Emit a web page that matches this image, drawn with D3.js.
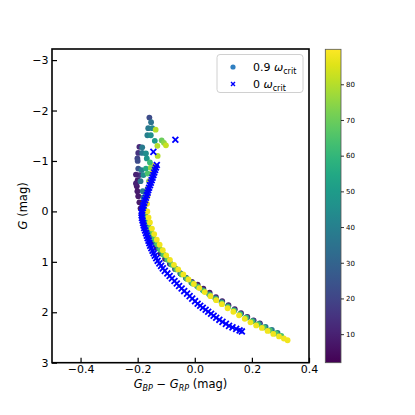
<!DOCTYPE html>
<html lang="en">
<head>
  <meta charset="UTF-8" />
  <title>Colour-magnitude diagram</title>
  <script src="https://d3js.org/d3.v7.min.js"></script>
  <style>
    body {
      margin: 0;
      background: #fff;
      font-family: "DejaVu Sans", sans-serif;
    }
    svg { display: block; }
    .tick text { font-family: "DejaVu Sans", sans-serif; }
  </style>
</head>
<body>
<svg id="chart" width="415" height="415"></svg>

<script>
  // ---- data: [G_BP - G_RP, G] ----
  const xTicks = [-0.4, -0.2, 0.0, 0.2, 0.4];
  const yTicks = [-3, -2, -1, 0, 1, 2, 3];
  const cbarTicks = [10, 20, 30, 40, 50, 60, 70, 80];

  // 0 omega_crit (non-rotating) track
  const nonRot = [
    [-0.068, -1.42], [-0.145, -1.18],
    [-0.133, -0.92], [-0.136, -0.87], [-0.139, -0.82], [-0.142, -0.77], [-0.145, -0.72],
    [-0.148, -0.67], [-0.151, -0.62], [-0.154, -0.57], [-0.157, -0.52], [-0.160, -0.47],
    [-0.163, -0.42], [-0.165, -0.37], [-0.168, -0.32], [-0.171, -0.27], [-0.174, -0.22],
    [-0.177, -0.17], [-0.180, -0.12], [-0.182, -0.07], [-0.184, -0.02], [-0.186, 0.03],
    [-0.186, 0.08], [-0.185, 0.13], [-0.183, 0.18], [-0.181, 0.23], [-0.179, 0.28],
    [-0.177, 0.33], [-0.174, 0.38], [-0.171, 0.43], [-0.168, 0.48], [-0.165, 0.53],
    [-0.162, 0.58], [-0.159, 0.63], [-0.156, 0.68], [-0.152, 0.73], [-0.148, 0.78],
    [-0.144, 0.83], [-0.140, 0.88], [-0.135, 0.93], [-0.130, 0.98], [-0.124, 1.03],
    [-0.118, 1.08], [-0.112, 1.13], [-0.105, 1.18], [-0.096, 1.23], [-0.088, 1.28],
    [-0.080, 1.33], [-0.071, 1.38], [-0.063, 1.43], [-0.055, 1.48], [-0.046, 1.53],
    [-0.037, 1.58], [-0.027, 1.63], [-0.018, 1.68], [-0.009, 1.73], [0.001, 1.78],
    [0.010, 1.83], [0.019, 1.87], [0.028, 1.91], [0.038, 1.95], [0.047, 1.99],
    [0.057, 2.03], [0.066, 2.07], [0.075, 2.11], [0.086, 2.15], [0.097, 2.19],
    [0.109, 2.23], [0.120, 2.27], [0.132, 2.30], [0.145, 2.33], [0.157, 2.36], [0.165, 2.38]
  ];

  // 0.9 omega_crit tracks at a few inclinations (deg)
  const rotIncl = [8, 38, 65, 88];

  const rotI08 = [
    [-0.200, -0.62], [-0.203, -0.50], [-0.201, -0.40], [-0.198, -0.30], [-0.194, -0.18],
    [-0.190, -0.06], [-0.186, 0.06], [-0.182, 0.16], [-0.176, 0.26], [-0.168, 0.36],
    [-0.158, 0.48], [-0.147, 0.60], [-0.134, 0.72], [-0.120, 0.83], [-0.104, 0.94],
    [-0.087, 1.04], [-0.069, 1.14], [-0.050, 1.23], [-0.030, 1.32], [-0.010, 1.40],
    [0.010, 1.45], [0.030, 1.53], [0.052, 1.61], [0.074, 1.70], [0.096, 1.78],
    [0.118, 1.86], [0.140, 1.94], [0.162, 2.02], [0.184, 2.09], [0.206, 2.16], [0.228, 2.22]
  ];

  const rotI38 = [
    [-0.182, -0.40], [-0.180, -0.28], [-0.178, -0.16], [-0.176, -0.04], [-0.173, 0.08],
    [-0.169, 0.19], [-0.163, 0.30], [-0.156, 0.41], [-0.147, 0.52], [-0.137, 0.63],
    [-0.126, 0.73], [-0.113, 0.84], [-0.099, 0.94], [-0.084, 1.04], [-0.068, 1.13],
    [-0.050, 1.23], [-0.031, 1.32], [-0.012, 1.41], [0.008, 1.48], [0.028, 1.56],
    [0.050, 1.64], [0.072, 1.72], [0.094, 1.80], [0.116, 1.88], [0.138, 1.96],
    [0.160, 2.03], [0.182, 2.10], [0.204, 2.17], [0.226, 2.23], [0.248, 2.29],
    [0.270, 2.35], [0.290, 2.41]
  ];

  const rotI65 = [
    [-0.160, -0.60], [-0.165, -0.45], [-0.170, -0.30], [-0.172, -0.15], [-0.172, 0.00],
    [-0.169, 0.12], [-0.165, 0.22], [-0.159, 0.33], [-0.151, 0.44], [-0.142, 0.55],
    [-0.132, 0.65], [-0.121, 0.76], [-0.109, 0.86], [-0.095, 0.96], [-0.080, 1.06],
    [-0.064, 1.15], [-0.046, 1.25], [-0.027, 1.34], [-0.008, 1.43], [0.012, 1.50],
    [0.032, 1.58], [0.053, 1.66], [0.074, 1.74], [0.095, 1.82], [0.116, 1.90],
    [0.137, 1.97], [0.158, 2.04], [0.179, 2.11], [0.200, 2.18], [0.221, 2.24],
    [0.242, 2.30], [0.263, 2.36], [0.284, 2.42], [0.303, 2.47]
  ];

  const rotI88 = [
    [-0.145, -0.90], [-0.152, -0.75], [-0.158, -0.60], [-0.163, -0.45], [-0.166, -0.30],
    [-0.167, -0.15], [-0.166, 0.00], [-0.162, 0.12], [-0.157, 0.22], [-0.150, 0.34],
    [-0.142, 0.45], [-0.133, 0.56], [-0.123, 0.66], [-0.112, 0.77], [-0.100, 0.87],
    [-0.087, 0.96], [-0.073, 1.06], [-0.058, 1.15], [-0.040, 1.25], [-0.022, 1.35],
    [-0.003, 1.44], [0.016, 1.52], [0.035, 1.60], [0.055, 1.68], [0.075, 1.76],
    [0.095, 1.84], [0.115, 1.92], [0.135, 1.99], [0.155, 2.06], [0.175, 2.13],
    [0.195, 2.20], [0.215, 2.26], [0.235, 2.31], [0.255, 2.37], [0.275, 2.43],
    [0.295, 2.48], [0.312, 2.52], [0.325, 2.555]
  ];

  // scattered bright models near the turn-off: [G_BP - G_RP, G, inclination]
  const rotUpper = [
    [-0.159, -1.86, 22], [-0.153, -1.77, 35], [-0.163, -1.65, 38], [-0.149, -1.65, 42],
    [-0.137, -1.62, 80], [-0.166, -1.51, 40], [-0.154, -1.51, 45], [-0.140, -1.40, 50],
    [-0.116, -1.41, 70], [-0.108, -1.36, 75], [-0.101, -1.31, 82], [-0.131, -1.30, 80],
    [-0.194, -1.28, 12], [-0.184, -1.27, 38], [-0.198, -1.16, 15], [-0.184, -1.16, 38],
    [-0.171, -1.15, 45], [-0.168, -1.05, 48], [-0.201, -1.05, 20], [-0.130, -1.10, 80],
    [-0.200, -1.00, 22], [-0.157, -0.97, 62], [-0.198, -0.85, 25], [-0.186, -0.82, 40],
    [-0.171, -0.85, 55], [-0.154, -0.865, 75], [-0.194, -0.72, 15], [-0.206, -0.73, 10],
    [-0.180, -0.72, 45], [-0.165, -0.75, 65], [-0.206, -0.555, 10], [-0.190, -0.60, 35]
  ];

  const svg = d3.select("#chart");
  const plot = { left: 52, right: 309, top: 49, bottom: 362.7 };

  const x = d3.scaleLinear().domain([-0.5, 0.4]).range([plot.left, plot.right]);
  const y = d3.scaleLinear().domain([-3.22, 3]).range([plot.top, plot.bottom]);
  const color = d3.scaleSequential(d3.interpolateViridis).domain([2, 89.8]);

  svg.append("rect").attr("width", 415).attr("height", 415).attr("fill", "#fff");

  svg.append("clipPath").attr("id", "clip")
    .append("rect")
    .attr("x", plot.left).attr("y", plot.top)
    .attr("width", plot.right - plot.left).attr("height", plot.bottom - plot.top);

  const marks = svg.append("g").attr("clip-path", "url(#clip)");
  const dotR = 2.9;

  // rotating models, drawn in order of increasing inclination
  const rotTracks = [rotI08, rotI38, rotI65, rotI88];
  rotTracks.forEach((track, i) => {
    marks.append("g").selectAll("circle")
      .data(track)
      .join("circle")
      .attr("cx", d => x(d[0]))
      .attr("cy", d => y(d[1]))
      .attr("r", dotR)
      .attr("fill", color(rotIncl[i]));
  });

  marks.append("g").selectAll("circle")
    .data(rotUpper)
    .join("circle")
    .attr("cx", d => x(d[0]))
    .attr("cy", d => y(d[1]))
    .attr("r", dotR)
    .attr("fill", d => color(d[2]));

  // non-rotating models as blue crosses
  const cross = d3.symbol().type(d3.symbolX).size(24);
  marks.append("g").selectAll("path")
    .data(nonRot)
    .join("path")
    .attr("transform", d => `translate(${x(d[0])},${y(d[1])})`)
    .attr("d", cross)
    .attr("fill", "none")
    .attr("stroke", "#0000ff")
    .attr("stroke-width", 1.8);

  // axes, ticks pointing inward
  const xAxis = svg.append("g")
    .attr("transform", `translate(0,${plot.bottom})`)
    .call(d3.axisBottom(x).tickValues(xTicks).tickFormat(d3.format(".1f")).tickSizeInner(-5).tickSizeOuter(0).tickPadding(3));
  const yAxis = svg.append("g")
    .attr("transform", `translate(${plot.left},0)`)
    .call(d3.axisLeft(y).tickValues(yTicks).tickFormat(d3.format("d")).tickSizeInner(-5).tickSizeOuter(0).tickPadding(3.5));

  [xAxis, yAxis].forEach(a => {
    a.select(".domain").remove();
    a.selectAll(".tick line").attr("stroke", "#000").attr("stroke-width", 1.2);
    a.selectAll(".tick text").attr("font-size", 11).attr("fill", "#000");
  });

  svg.append("rect")
    .attr("x", plot.left).attr("y", plot.top)
    .attr("width", plot.right - plot.left).attr("height", plot.bottom - plot.top)
    .attr("fill", "none").attr("stroke", "#000").attr("stroke-width", 1.6);

  // axis labels
  const xLab = svg.append("text")
    .attr("x", (plot.left + plot.right) / 2).attr("y", 388)
    .attr("text-anchor", "middle").attr("font-size", 11.5).attr("fill", "#000");
  xLab.append("tspan").attr("font-style", "italic").text("G");
  xLab.append("tspan").attr("font-style", "italic").attr("font-size", 8).attr("dy", 2.5).text("BP");
  xLab.append("tspan").attr("dy", -2.5).text(" \u2212 ");
  xLab.append("tspan").attr("font-style", "italic").text("G");
  xLab.append("tspan").attr("font-style", "italic").attr("font-size", 8).attr("dy", 2.5).text("RP");
  xLab.append("tspan").attr("dy", -2.5).text(" (mag)");

  const yLab = svg.append("text")
    .attr("transform", `translate(27,${(plot.top + plot.bottom) / 2}) rotate(-90)`)
    .attr("text-anchor", "middle").attr("font-size", 11.5).attr("fill", "#000");
  yLab.append("tspan").attr("font-style", "italic").text("G");
  yLab.append("tspan").text(" (mag)");

  // legend
  const leg = svg.append("g");
  leg.append("rect")
    .attr("x", 217).attr("y", 54.5).attr("width", 86).attr("height", 38)
    .attr("rx", 3).attr("fill", "#fff").attr("fill-opacity", 0.8)
    .attr("stroke", "#d0d0d0").attr("stroke-width", 1);
  const legendCross = d3.symbol().type(d3.symbolX).size(12);
  const legendItems = [
    { label: "0.9 ", kind: "circle", yy: 67 },
    { label: "0 ", kind: "cross", yy: 84 }
  ];
  legendItems.forEach(it => {
    if (it.kind === "circle") {
      leg.append("circle").attr("cx", 233).attr("cy", it.yy).attr("r", 2.6).attr("fill", "#2f7fc1");
    } else {
      leg.append("path").attr("transform", `translate(233,${it.yy})`).attr("d", legendCross)
        .attr("fill", "none").attr("stroke", "#0000ff").attr("stroke-width", 1.4);
    }
    const t = leg.append("text").attr("x", 253).attr("y", it.yy + 4)
      .attr("font-size", 11).attr("fill", "#000");
    t.append("tspan").text(it.label);
    t.append("tspan").attr("font-style", "italic").text("\u03c9");
    t.append("tspan").attr("font-size", 8).attr("dy", 2.5).text("crit");
  });

  // colorbar
  const cb = { left: 325.3, right: 341, top: 49.3, bottom: 362.7 };
  const cbScale = d3.scaleLinear().domain([2, 89.8]).range([cb.bottom, cb.top]);
  const grad = svg.append("defs").append("linearGradient")
    .attr("id", "viridis").attr("x1", 0).attr("y1", 1).attr("x2", 0).attr("y2", 0);
  d3.range(0, 1.0001, 0.05).forEach(t => {
    grad.append("stop").attr("offset", t).attr("stop-color", d3.interpolateViridis(t));
  });
  svg.append("rect")
    .attr("x", cb.left).attr("y", cb.top)
    .attr("width", cb.right - cb.left).attr("height", cb.bottom - cb.top)
    .attr("fill", "url(#viridis)").attr("stroke", "#555").attr("stroke-width", 0.8);

  const cbAxis = svg.append("g")
    .attr("transform", `translate(${cb.right},0)`)
    .call(d3.axisRight(cbScale).tickValues(cbarTicks).tickSizeInner(3).tickSizeOuter(0).tickPadding(2));
  cbAxis.select(".domain").remove();
  cbAxis.selectAll(".tick line").attr("stroke", "#000").attr("stroke-width", 0.8);
  cbAxis.selectAll(".tick text").attr("font-size", 7).attr("fill", "#000");
</script>
</body>
</html>
